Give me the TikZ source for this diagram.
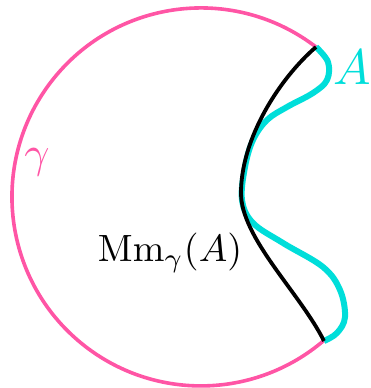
\documentclass[tikz,border=0pt]{standalone}
\usepackage{amsmath, amssymb}

\definecolor{hotpink}{RGB}{255,85,165}
\definecolor{aqua}{RGB}{0,222,218}

\begin{document}
\begin{tikzpicture}[x=1pt, y=1pt,
    gammaline/.style={hotpink, line width=3.6pt},
    setline/.style={aqua, line width=6pt, line join=round},
    mmline/.style={black, line width=3.8pt}]
    \useasboundingbox (0,0) rectangle (371,388);
    \coordinate (top) at (316,341);
    \coordinate (bot) at (324,47);
    \draw[gammaline] (top) arc[start angle=52.5, end angle=310.5, radius=189];
    \draw[setline, smooth, tension=0.6] plot coordinates {(top) (328,326) (327,308) (313,295) (287,281) (267,268) (253,248) (245,221) (242,188) (253,165) (283,145) (323,121) (340,98) (345,71) (337,55) (bot)};
    \draw[mmline] (top) .. controls (280,310) and (241,250) .. (241,195) .. controls (241,150) and (300,95) .. (bot);
    \node[aqua, scale=5] (alabel) at (352,321) {$A$};
    \node[hotpink, scale=4.4] (glabel) at (37,226) {$\gamma$};
    \node[scale=3.8] (mmlabel) at (170,135) {$\mathrm{Mm}_\gamma(A)$};
\end{tikzpicture}
\end{document}
